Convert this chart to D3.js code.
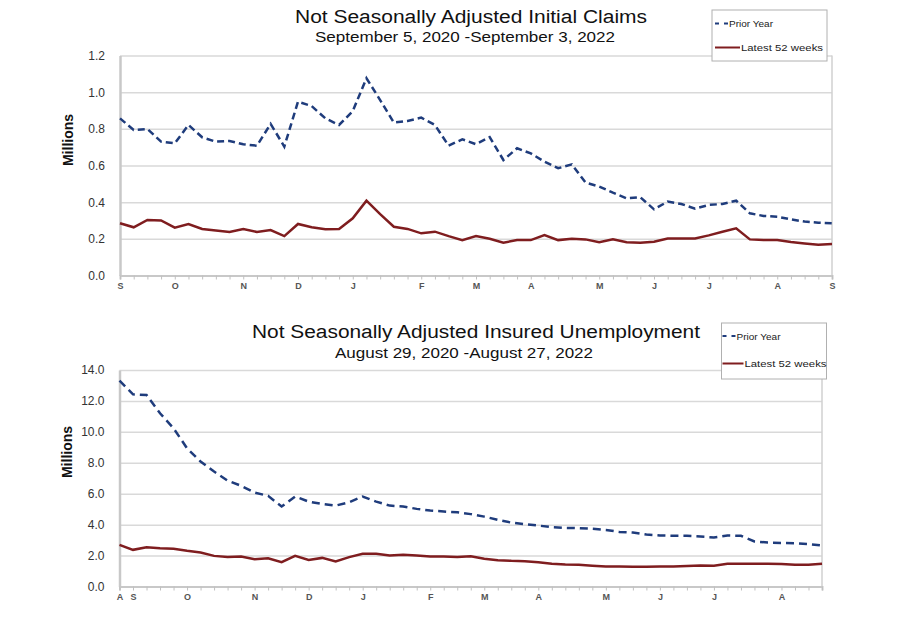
<!DOCTYPE html>
<html>
<head>
<meta charset="utf-8">
<script src="https://cdn.jsdelivr.net/npm/d3@7"></script>
<style>
  body { margin: 0; background: #fff; }
  svg { font-family: "Liberation Sans", Arial, sans-serif; }
</style>
</head>
<body>
<div id="canvas"></div>
<script>
// Canvas size
var w = 911;
var h = 632;

// Week-ending dates (Saturdays) of the latest 52 weeks, used as x categories
var claimsWeeks = d3.timeSaturday.range(new Date(2021, 8, 4), new Date(2022, 8, 4));
var insuredWeeks = d3.timeSaturday.range(new Date(2021, 7, 28), new Date(2022, 7, 28));

// Initial claims, millions
var claimsPrior = [0.857, 0.794, 0.799, 0.730, 0.721, 0.821, 0.754, 0.730, 0.734, 0.716,
    0.708, 0.827, 0.703, 0.948, 0.924, 0.857, 0.821, 0.897, 1.076, 0.957,
    0.834, 0.843, 0.861, 0.821, 0.708, 0.743, 0.716, 0.755, 0.630, 0.694,
    0.666, 0.621, 0.585, 0.606, 0.507, 0.485, 0.452, 0.421, 0.427, 0.361,
    0.403, 0.390, 0.365, 0.385, 0.390, 0.408, 0.339, 0.325, 0.321, 0.306,
    0.294, 0.288, 0.285];
var claimsLatest = [0.285, 0.263, 0.303, 0.300, 0.261, 0.281, 0.254, 0.245, 0.237, 0.254,
    0.237, 0.248, 0.215, 0.281, 0.263, 0.252, 0.254, 0.312, 0.408, 0.335,
    0.266, 0.254, 0.230, 0.239, 0.215, 0.193, 0.215, 0.200, 0.179, 0.193,
    0.193, 0.221, 0.193, 0.200, 0.197, 0.181, 0.197, 0.181, 0.179, 0.184,
    0.202, 0.202, 0.202, 0.219, 0.239, 0.257, 0.197, 0.193, 0.193, 0.183,
    0.175, 0.168, 0.172];

// Insured unemployment, millions
var insuredPrior = [13.31, 12.43, 12.38, 11.20, 10.23, 8.94, 8.08, 7.43, 6.85, 6.51,
    6.07, 5.86, 5.17, 5.82, 5.49, 5.34, 5.23, 5.45, 5.82, 5.49,
    5.23, 5.17, 5.02, 4.91, 4.85, 4.80, 4.68, 4.52, 4.31, 4.13,
    4.03, 3.94, 3.84, 3.79, 3.77, 3.73, 3.66, 3.53, 3.49, 3.36,
    3.30, 3.28, 3.28, 3.23, 3.17, 3.30, 3.28, 2.91, 2.84, 2.82,
    2.80, 2.74, 2.65];
var insuredLatest = [2.69, 2.37, 2.54, 2.48, 2.44, 2.31, 2.20, 1.98, 1.90, 1.94,
    1.77, 1.83, 1.57, 1.98, 1.72, 1.85, 1.62, 1.90, 2.11, 2.11,
    2.00, 2.05, 2.00, 1.94, 1.94, 1.90, 1.96, 1.79, 1.70, 1.66,
    1.64, 1.57, 1.47, 1.42, 1.40, 1.34, 1.29, 1.29, 1.27, 1.27,
    1.29, 1.29, 1.32, 1.36, 1.34, 1.47, 1.47, 1.47, 1.47, 1.45,
    1.40, 1.40, 1.47];

// Tick values and texts
var claimsTicks = [0, 0.2, 0.4, 0.6, 0.8, 1.0, 1.2];
var insuredTicks = [0, 2, 4, 6, 8, 10, 12, 14];
var seriesNames = ["Prior Year", "Latest 52 weeks"];

var priorColor = "#1f3c7c";
var latestColor = "#7f1d1f";

// Create the SVG canvas
var svg = d3.select("#canvas")
    .append("svg")
    .attr("width", w)
    .attr("height", h);

var monthLetter = d3.timeFormat("%b");

function drawPanel(p) {
    var g = svg.append("g");

    var x = d3.scaleTime()
        .domain(d3.extent(p.weeks))
        .range([p.left, p.right]);
    var y = d3.scaleLinear()
        .domain([0, d3.max(p.ticks)])
        .range([p.bottom, p.top]);

    // Grid lines
    g.append("g")
        .attr("transform", `translate(${p.left},0)`)
        .call(d3.axisLeft(y).tickValues(p.ticks).tickSize(-(p.right - p.left)).tickFormat(""))
        .call(a => a.select(".domain").remove())
        .selectAll("line")
        .attr("stroke", "#d9d9d9")
        .attr("stroke-width", 1.5);

    // Right border of the plot
    g.append("line")
        .attr("x1", p.right).attr("x2", p.right)
        .attr("y1", p.top).attr("y2", p.bottom)
        .attr("stroke", "#d0d0d0")
        .attr("stroke-width", 1.5);

    // Y axis labels
    g.append("g")
        .attr("transform", `translate(${p.left},0)`)
        .call(d3.axisLeft(y).tickValues(p.ticks).tickSize(0).tickPadding(15).tickFormat(d3.format(".1f")))
        .call(a => a.select(".domain").attr("stroke", "#c8c8c8").attr("stroke-width", 2.5))
        .selectAll("text")
        .style("font-size", "12px")
        .attr("fill", "#333");

    // X axis: one tick per week, letter at the first week of each month
    g.append("g")
        .attr("transform", `translate(0,${p.bottom})`)
        .call(d3.axisBottom(x)
            .tickValues(p.weeks)
            .tickSize(4)
            .tickPadding(3)
            .tickFormat((d, i) => (i === 0 || d.getMonth() !== p.weeks[i - 1].getMonth()) ? monthLetter(d)[0] : ""))
        .call(a => a.select(".domain").attr("stroke", "#c8c8c8").attr("stroke-width", 2))
        .call(a => a.selectAll("line").attr("stroke", "#c0c0c0"))
        .selectAll("text")
        .style("font-size", "9px")
        .style("font-weight", "bold")
        .attr("fill", "#555");

    // Y title
    g.append("text")
        .attr("transform", `translate(${p.yTitleX},${p.yTitleY}) rotate(-90)`)
        .attr("text-anchor", "middle")
        .style("font-size", "14px")
        .style("font-weight", "bold")
        .attr("fill", "#111")
        .text("Millions");

    // Lines
    var line = d3.line()
        .x((d, i) => x(p.weeks[i]))
        .y(d => y(d));

    g.append("path")
        .datum(p.prior)
        .attr("d", line)
        .attr("fill", "none")
        .attr("stroke", priorColor)
        .attr("stroke-width", 2.5)
        .attr("stroke-dasharray", p.dash);

    g.append("path")
        .datum(p.latest)
        .attr("d", line)
        .attr("fill", "none")
        .attr("stroke", latestColor)
        .attr("stroke-width", 2.5);

    // Titles
    g.append("text")
        .attr("x", p.titleX).attr("y", p.titleY)
        .attr("text-anchor", "middle")
        .attr("textLength", p.titleLen)
        .attr("lengthAdjust", "spacingAndGlyphs")
        .style("font-size", "18px")
        .attr("fill", "#111")
        .text(p.title);

    g.append("text")
        .attr("x", p.subX).attr("y", p.subY)
        .attr("text-anchor", "middle")
        .attr("textLength", p.subLen)
        .attr("lengthAdjust", "spacingAndGlyphs")
        .style("font-size", "14px")
        .attr("fill", "#111")
        .text(p.subtitle);

    // Legend
    var L = p.legend;
    var lg = g.append("g").attr("transform", `translate(${L.x},${L.y})`);
    lg.append("rect")
        .attr("width", L.w).attr("height", L.h)
        .attr("fill", "#fff")
        .attr("stroke", "#b0b0b0")
        .attr("stroke-width", 1);
    lg.append("line")
        .attr("x1", L.pad).attr("x2", L.pad + 13)
        .attr("y1", L.row1).attr("y2", L.row1)
        .attr("stroke", priorColor).attr("stroke-width", 2)
        .attr("stroke-dasharray", "4,5");
    lg.append("text")
        .attr("x", L.pad + 14).attr("y", L.row1 + 3.5)
        .attr("textLength", 44)
        .attr("lengthAdjust", "spacingAndGlyphs")
        .style("font-size", "9.5px")
        .attr("fill", "#222")
        .text(seriesNames[0]);
    lg.append("line")
        .attr("x1", L.pad).attr("x2", L.pad + L.solidLen)
        .attr("y1", L.row2).attr("y2", L.row2)
        .attr("stroke", latestColor).attr("stroke-width", 2);
    lg.append("text")
        .attr("x", L.pad + L.solidLen + 1).attr("y", L.row2 + 3.5)
        .attr("textLength", 82)
        .attr("lengthAdjust", "spacingAndGlyphs")
        .style("font-size", "9.5px")
        .attr("fill", "#222")
        .text(seriesNames[1]);
}

drawPanel({
    weeks: claimsWeeks, prior: claimsPrior, latest: claimsLatest, ticks: claimsTicks,
    left: 120, right: 832, top: 55.5, bottom: 275.5, yTitleX: 73, yTitleY: 140, dash: "7,4",
    title: "Not Seasonally Adjusted Initial Claims", titleX: 471, titleY: 23, titleLen: 352,
    subtitle: "September 5, 2020 -September 3, 2022", subX: 465, subY: 41.5, subLen: 300,
    legend: {x: 712, y: 10, w: 115, h: 51, pad: 3, solidLen: 25, row1: 13.5, row2: 37.5}
});

drawPanel({
    weeks: insuredWeeks, prior: insuredPrior, latest: insuredLatest, ticks: insuredTicks,
    left: 119.5, right: 822, top: 370, bottom: 586.5, yTitleX: 72, yTitleY: 452, dash: "8,5",
    title: "Not Seasonally Adjusted Insured Unemployment", titleX: 476, titleY: 337.5, titleLen: 448,
    subtitle: "August 29, 2020 -August 27, 2022", subX: 464, subY: 357.5, subLen: 258,
    legend: {x: 721.5, y: 323, w: 105, h: 56, pad: 1, solidLen: 21, row1: 13, row2: 40.5}
});
</script>
</body>
</html>
